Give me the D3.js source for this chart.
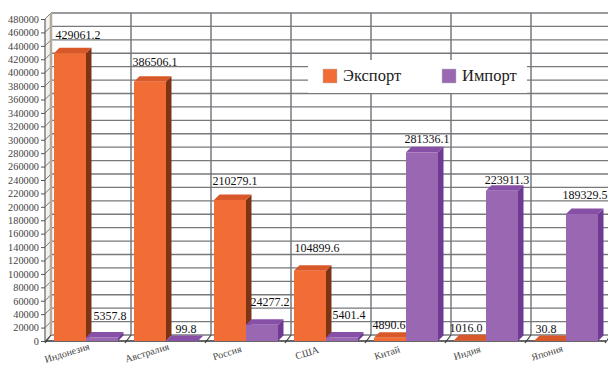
<!DOCTYPE html>
<html>
<head>
<meta charset="utf-8">
<script src="https://cdn.jsdelivr.net/npm/d3@7/dist/d3.min.js"></script>
<style>
html,body{margin:0;padding:0;background:#fff}
svg{display:block}
text{font-family:"Liberation Serif",serif}
</style>
</head>
<body>
<svg id="chart" width="608" height="365"></svg>
<script>
const categories = ["Индонезия","Австралия","Россия","США","Китай","Индия","Япония"];
const exportValues = [429061.2,386506.1,210279.1,104899.6,4890.6,1016.0,30.8];
const importValues = [5357.8,99.8,24277.2,5401.4,281336.1,223911.3,189329.5];
const seriesNames = ["Экспорт","Импорт"];

// Hand placement of the value labels above each bar
const exportLabelLift = [9,10,9,13,3,3,2];
const importLabelLift = [12,2,13,13,4,1,9];
const exportLabelShift = [8,5,5,7,-1,-4,-4];
const importLabelShift = [8,4,8,7,5,5,3];

const palette = {
  Экспорт:{front:"#f26c35",side:"#7c3415",top:"#d9582a"},
  Импорт:{front:"#9a68b2",side:"#6e3a92",top:"#8750a6"}
};

const depth = 5.5, wall = 6;
const svg = d3.select("#chart");
const x0 = d3.scaleBand().domain(categories).range([45,605]);
const x1 = d3.scaleBand().domain(seriesNames).range([9,73]);
const y = d3.scaleLinear().domain([0,480000]).range([341,19]);
const ticks = d3.range(0,480001,20000);
const poly = pts => pts.map(p=>p.join(",")).join(" ");

// Side wall of the 3D plot box
svg.append("polygon")
  .attr("points",poly([[45,y(480000)],[45+wall,y(480000)-wall],[45+wall,y(0)-wall],[45,y(0)]]))
  .attr("fill","#f4f2ee");

// Back wall gridlines
const grid = svg.append("g");
ticks.forEach(t=>{
  const yy = y(t);
  grid.append("line").attr("x1",45+wall).attr("x2",610).attr("y1",yy-wall).attr("y2",yy-wall)
    .attr("stroke","#77797c").attr("stroke-width",1.3);
  grid.append("line").attr("x1",45).attr("x2",45+wall).attr("y1",yy).attr("y2",yy-wall)
    .attr("stroke","#77797c").attr("stroke-width",1);
});
d3.range(0,8).forEach(i=>{
  const xx = 45+i*x0.step();
  grid.append("line").attr("x1",xx+wall).attr("x2",xx+wall).attr("y1",y(480000)-wall).attr("y2",y(0)-wall)
    .attr("stroke",i===0?"#b5ab9c":"#6f7175").attr("stroke-width",i===0?2.5:1.4);
  grid.append("line").attr("x1",xx).attr("x2",xx+wall).attr("y1",y(0)+2).attr("y2",y(0)-wall)
    .attr("stroke","#444").attr("stroke-width",1.2);
});

// Floor edge and front vertical axis
svg.append("line").attr("x1",45).attr("x2",606).attr("y1",y(0)).attr("y2",y(0)).attr("stroke","#333").attr("stroke-width",1.3);
svg.append("line").attr("x1",45).attr("x2",45).attr("y1",y(480000)).attr("y2",y(0)).attr("stroke","#555").attr("stroke-width",1.1);

const yAxis = d3.axisLeft(y).tickValues(ticks).tickFormat(d3.format("d")).tickSize(4).tickPadding(2);
const axisG = svg.append("g").attr("transform","translate(45,0)").call(yAxis);
axisG.select(".domain").remove();
axisG.selectAll("line").attr("stroke","#555");
axisG.selectAll("text").attr("font-size",10.3).attr("fill","#444").style("font-family",'"Liberation Serif",serif');

// Bars drawn as front, side and top faces
function drawBar(g,name,cat,value){
  const c = palette[name];
  const l = x0(cat)+x1(name), r = l+x1.bandwidth();
  const t = y(value), b = y(0);
  g.append("polygon").attr("points",poly([[r,t],[r+depth,t-depth],[r+depth,b-depth],[r,b]])).attr("fill",c.side);
  g.append("polygon").attr("points",poly([[l,t],[l+depth,t-depth],[r+depth,t-depth],[r,t]])).attr("fill",c.top);
  g.append("rect").attr("x",l).attr("y",t).attr("width",r-l).attr("height",b-t).attr("fill",c.front);
}
const barsG = svg.append("g");
categories.forEach((cat,i)=>{
  drawBar(barsG,"Экспорт",cat,exportValues[i]);
  drawBar(barsG,"Импорт",cat,importValues[i]);
});

// Value labels
const labelsG = svg.append("g").attr("font-size",12).attr("fill","#111").attr("text-anchor","middle");
function addLabel(name,cat,value,lift,shift){
  labelsG.append("text")
    .attr("x",x0(cat)+x1(name)+x1.bandwidth()/2+shift)
    .attr("y",y(value)-depth-lift)
    .text(d3.format(".1f")(value));
}
categories.forEach((cat,i)=>{
  addLabel("Экспорт",cat,exportValues[i],exportLabelLift[i],exportLabelShift[i]);
  addLabel("Импорт",cat,importValues[i],importLabelLift[i],importLabelShift[i]);
});

// Slanted category labels
svg.append("g").selectAll("text").data(categories).join("text")
  .attr("text-anchor","middle").attr("font-size",10).attr("fill","#444")
  .attr("transform",d=>`translate(${x0(d)+x0.bandwidth()/2-17},356) rotate(-17)`)
  .text(d=>d);

// Legend
const legend = svg.append("g");
legend.append("rect").attr("x",308).attr("y",60).attr("width",219).attr("height",33).attr("fill","#fff");
const legendX = d3.scaleOrdinal().domain(seriesNames).range([323,442]);
seriesNames.forEach(n=>{
  legend.append("rect").attr("x",legendX(n)).attr("y",69).attr("width",14).attr("height",14)
    .attr("fill",palette[n].front).attr("stroke","#bbb").attr("stroke-width",0.5);
  legend.append("text").attr("x",legendX(n)+20).attr("y",81).attr("font-size",16.5).attr("fill","#222").text(n);
});
</script>
</body>
</html>
